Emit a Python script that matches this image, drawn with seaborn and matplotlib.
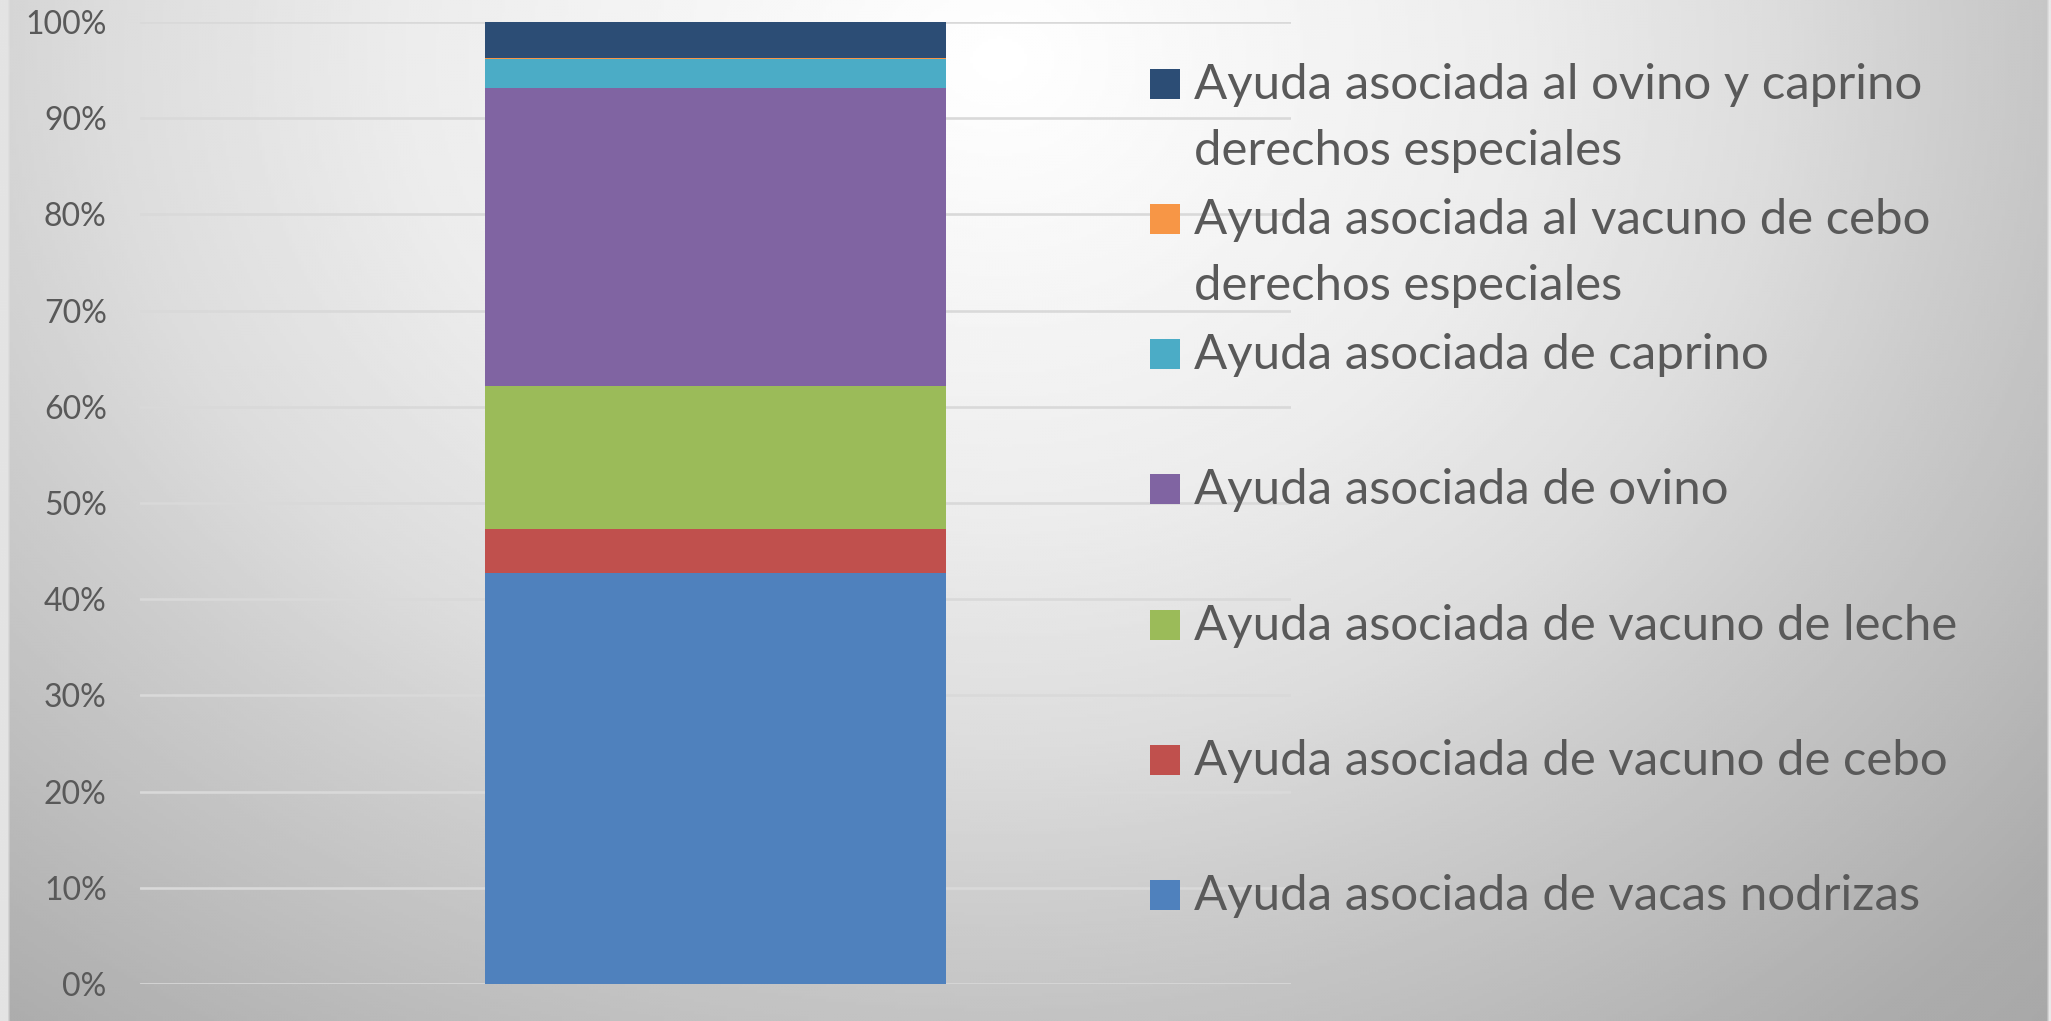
import numpy as np
import pandas as pd
import seaborn as sns
import matplotlib.pyplot as plt
from matplotlib.patches import Rectangle


CATEGORY = "Total"

SERIES = [
    "Ayuda asociada de vacas nodrizas",
    "Ayuda asociada de vacuno de cebo",
    "Ayuda asociada de vacuno de leche",
    "Ayuda asociada de ovino",
    "Ayuda asociada de caprino",
    "Ayuda asociada al vacuno de cebo derechos especiales",
    "Ayuda asociada al ovino y caprino derechos especiales",
]

# legend text as wrapped in the original
LEGEND_LABELS = [
    "Ayuda asociada de vacas nodrizas",
    "Ayuda asociada de vacuno de cebo",
    "Ayuda asociada de vacuno de leche",
    "Ayuda asociada de ovino",
    "Ayuda asociada de caprino",
    "Ayuda asociada al vacuno de cebo\nderechos especiales",
    "Ayuda asociada al ovino y caprino\nderechos especiales",
]

# share of the total, in percent
SHARES = [42.7, 4.6, 14.9, 31.0, 3.0, 0.12, 3.7]

COLORS = ["#4f81bd", "#c0504d", "#9bbb59", "#8064a2", "#4bacc6", "#f79646", "#2c4d75"]

Y_TICKS = [0, 10, 20, 30, 40, 50, 60, 70, 80, 90, 100]

W, H = 2051, 1021
TEXT_COLOR = "#595959"
GRID_COLOR = "#d9d9d9"


def px(x, y):
    # pixel position -> figure fraction
    return x / W, 1 - y / H


def background(fig):
    bg = fig.add_axes([0, 0, 1, 1], zorder=-10)
    yy, xx = np.mgrid[0:H:3, 0:W:3].astype(float)
    dx = xx - 1000
    dx = np.where(dx > 0, dx * 1.15, dx)
    dy = (yy - 60) * 1.3
    d = np.sqrt(dx**2 + dy**2)
    v = np.interp(d, [0, 600, 900, 1100, 1600, 2000], [255, 236, 220, 205, 172, 160])
    v[:, xx[0] < 7] = 228
    v[:, xx[0] >= W - 4] = 232
    bg.imshow(v, cmap="gray", vmin=0, vmax=255, extent=[0, W, H, 0],
              aspect="auto", interpolation="bilinear")
    bg.set_xlim(0, W)
    bg.set_ylim(H, 0)
    bg.axis("off")


def main() -> None:
    sns.set_style("white")
    plt.rcParams["font.family"] = ["Lato", "DejaVu Sans"]

    df = pd.DataFrame({"series": SERIES, "share": SHARES, "color": COLORS})
    df["pct"] = df["share"] / df["share"].sum() * 100
    df["cum"] = df["pct"].cumsum()
    df["category"] = CATEGORY

    fig = plt.figure(figsize=(W / 100, H / 100), dpi=100)
    background(fig)

    ax = fig.add_axes([140 / W, 1 - 984 / H, (1291 - 140) / W, (984 - 22) / H])
    ax.set_facecolor("none")

    # stacked bar: draw cumulative totals from the top series down
    for i in reversed(range(len(df))):
        sns.barplot(
            data=df.iloc[[i]],
            x="category",
            y="cum",
            color=df["color"].iloc[i],
            saturation=1,
            width=0.4,
            linewidth=0,
            ax=ax,
        )

    ax.set_ylim(0, 100)
    ax.set_yticks(Y_TICKS)
    ax.set_yticklabels([f"{t}%" for t in Y_TICKS])
    ax.set_xticks([])
    ax.set_xlabel("")
    ax.set_ylabel("")
    ax.tick_params(axis="y", length=0, pad=24, labelsize=23, labelcolor=TEXT_COLOR)

    for spine in ax.spines.values():
        spine.set_visible(False)
    ax.set_axisbelow(True)
    ax.yaxis.grid(True, color=GRID_COLOR, linestyle="-", linewidth=1.9)
    ax.xaxis.grid(False)

    # legend, top to bottom in reverse series order
    marker_tops = [69, 204, 339, 474, 610, 745, 880]
    texts = []
    for top, (label, color) in zip(marker_tops, zip(LEGEND_LABELS[::-1], COLORS[::-1])):
        x0, y0 = px(1150, top + 30)
        fig.add_artist(Rectangle((x0, y0), 30 / W, 30 / H, transform=fig.transFigure,
                                 facecolor=color, edgecolor="none"))
        for k, line in enumerate(label.split("\n")):
            tx, ty = px(1194, top + 30 + k * 66)
            texts.append(fig.text(tx, ty, line, fontsize=32, color=TEXT_COLOR,
                                  ha="left", va="baseline"))

    # fit the legend font to the width the longest line takes in the original
    fig.canvas.draw()
    renderer = fig.canvas.get_renderer()
    ref = [t for t in texts if t.get_text() == "Ayuda asociada de vacuno de leche"][0]
    scale = 763 / ref.get_window_extent(renderer).width
    for t in texts:
        t.set_fontsize(32 * scale)

    fig.savefig("out.png", dpi=100)


if __name__ == "__main__":
    main()
